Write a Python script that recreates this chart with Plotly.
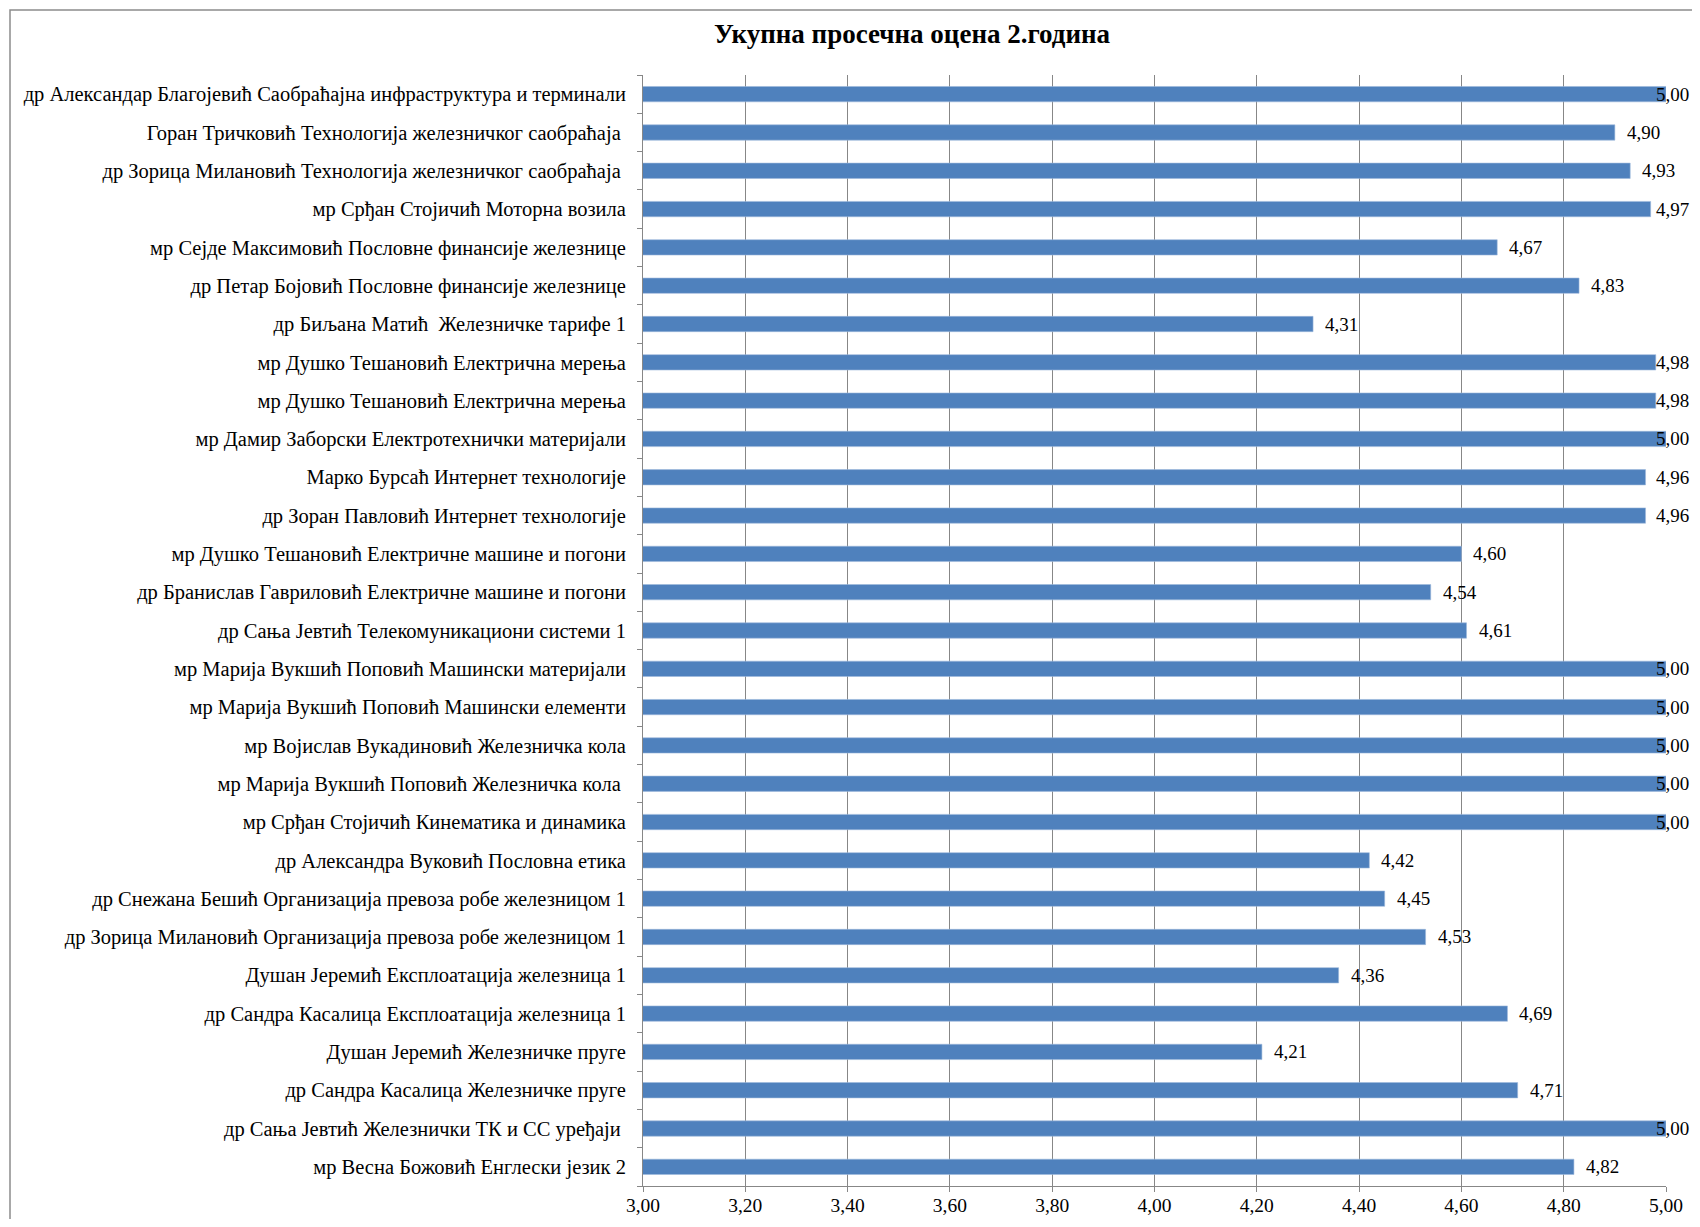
import plotly.graph_objects as go

NB = "\u00a0"
labels = [
    "др Александар Благојевић Саобраћајна инфраструктура и терминали",
    "Горан Тричковић Технологија железничког саобраћаја" + NB,
    "др Зорица Милановић Технологија железничког саобраћаја" + NB,
    "мр Срђан Стојичић Моторна возила",
    "мр Сејде Максимовић Пословне финансије железнице",
    "др Петар Бојовић Пословне финансије железнице",
    "др Биљана Матић" + NB + " Железничке тарифе 1",
    "мр Душко Тешановић Електрична мерења",
    "мр Душко Тешановић Електрична мерења",
    "мр Дамир Заборски Електротехнички материјали",
    "Марко Бурсаћ Интернет технологије",
    "др Зоран Павловић Интернет технологије",
    "мр Душко Тешановић Електричне машине и погони",
    "др Бранислав Гавриловић Електричне машине и погони",
    "др Сања Јевтић Телекомуникациони системи 1",
    "мр Марија Вукшић Поповић Машински материјали",
    "мр Марија Вукшић Поповић Машински елементи",
    "мр Војислав Вукадиновић Железничка кола",
    "мр Марија Вукшић Поповић Железничка кола" + NB,
    "мр Срђан Стојичић Кинематика и динамика",
    "др Александра Вуковић Пословна етика",
    "др Снежана Бешић Организација превоза робе железницом 1",
    "др Зорица Милановић Организација превоза робе железницом 1",
    "Душан Јеремић Експлоатација железница 1",
    "др Сандра Касалица Експлоатација железница 1",
    "Душан Јеремић Железничке пруге",
    "др Сандра Касалица Железничке пруге",
    "др Сања Јевтић Железнички ТК и СС уређаји" + NB,
    "мр Весна Божовић Енглески језик 2",
]
values = [5.00, 4.90, 4.93, 4.97, 4.67, 4.83, 4.31, 4.98, 4.98, 5.00,
          4.96, 4.96, 4.60, 4.54, 4.61, 5.00, 5.00, 5.00, 5.00, 5.00,
          4.42, 4.45, 4.53, 4.36, 4.69, 4.21, 4.71, 5.00, 4.82]
x_ticks = [3.0, 3.2, 3.4, 3.6, 3.8, 4.0, 4.2, 4.4, 4.6, 4.8, 5.0]
title_text = "Укупна просечна оцена 2.година"

positions = list(range(len(labels)))
# the page body adds an 8px margin on every side; keep the figure inside the window
W, H = 1684, 1211
ML, MR, MT, MB = 635, 26, 67, 33
XMIN, XMAX = 3.0, 5.0
FONT = "Liberation Serif, Times New Roman, serif"
GRID = "#878787"
LABEL_SIZE = 19
LABEL_W = 37      # approx pixel width of a "4,90" label box
GAP = 10          # gap between bar end and its label
RIGHT_LIMIT = W - 1  # labels are kept inside the chart area

pw = W - ML - MR
ph = H - MT - MB

fig = go.Figure()
fig.add_trace(go.Bar(
    x=values, y=positions, orientation="h", width=0.4,
    marker=dict(color="#4F81BD", line=dict(color="#9DB9DC", width=0.6)),
    hoverinfo="x+text", hovertext=labels,
))

for yv, v in zip(positions, values):
    end_px = ML + (v - XMIN) / (XMAX - XMIN) * pw
    shift = min(GAP, RIGHT_LIMIT - LABEL_W - end_px)
    fig.add_annotation(
        x=v, y=yv, xref="x", yref="y",
        text=f"{v:.2f}".replace(".", ","),
        showarrow=False, xanchor="left", yanchor="middle",
        xshift=shift,
        font=dict(family=FONT, size=LABEL_SIZE, color="#000000"),
    )

fig.add_shape(
    type="rect", xref="paper", yref="paper",
    x0=(2 - ML) / pw, x1=(W + 20 - ML) / pw,
    y0=-(MB + 30) / ph, y1=1 + (MT - 2) / ph,
    line=dict(color="#8C8C8C", width=1.5), layer="below",
)

fig.update_layout(
    width=W, height=H,
    margin=dict(l=ML, r=MR, t=MT, b=MB, pad=0, autoexpand=False),
    paper_bgcolor="white", plot_bgcolor="white",
    separators=",.",
    showlegend=False,
    font=dict(family=FONT, size=19, color="#000000"),
    title=dict(
        text="<b>" + title_text + "</b>",
        x=904 / W, xanchor="center", xref="container",
        y=1 - 26 / H, yanchor="middle", yref="container",
        font=dict(family=FONT, size=27, color="#000000"),
    ),
    xaxis=dict(
        range=[XMIN, XMAX], tickvals=x_ticks, tickformat=".2f",
        showgrid=True, gridcolor=GRID, gridwidth=1,
        showline=True, linecolor=GRID, linewidth=1,
        ticks="outside", ticklen=5, tickcolor=GRID,
        zeroline=False, tickfont=dict(family=FONT, size=19.5),
        ticklabelstandoff=-3, automargin=False,
    ),
    yaxis=dict(
        range=[len(labels) - 0.5, -0.5],
        tickmode="array", tickvals=positions, ticktext=labels,
        ticks="", showgrid=False, zeroline=False,
        showline=True, linecolor=GRID, linewidth=1,
        tickfont=dict(family=FONT, size=20.5),
        ticklabelstandoff=12, automargin=False,
        minor=dict(
            tickmode="array",
            tickvals=[p - 0.5 for p in positions] + [len(labels) - 0.5],
            ticks="outside", ticklen=5, tickcolor=GRID, showgrid=False,
        ),
    ),
)

fig.write_html("out.html")
